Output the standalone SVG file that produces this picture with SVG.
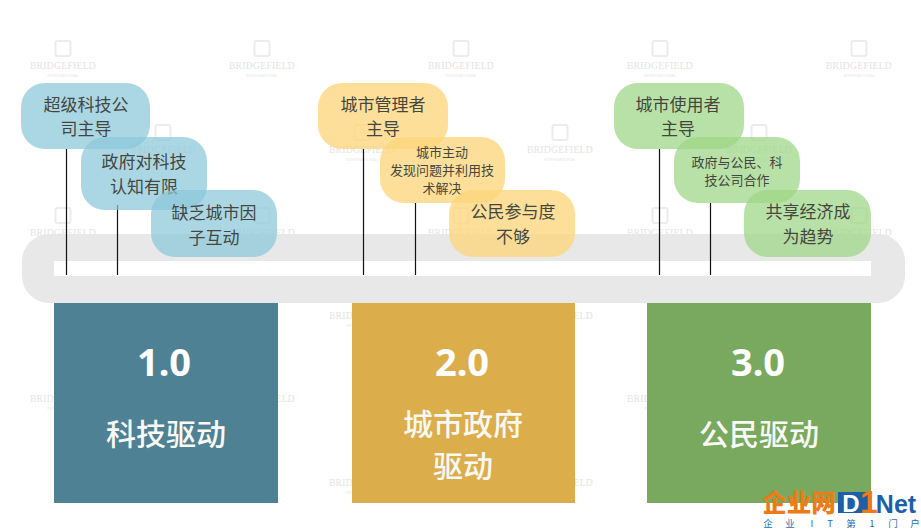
<svg xmlns="http://www.w3.org/2000/svg" width="921" height="531" viewBox="0 0 921 531">
<style>
text{font-family:"Noto Sans CJK SC","Liberation Sans",sans-serif;text-anchor:middle}
.b{fill:#8ac7da;fill-opacity:.72}.y{fill:#fdd67c;fill-opacity:.78}.g{fill:#9cd685;fill-opacity:.72}
.l{font-size:17px;fill:#45473f}
.s{font-size:13px;fill:#45473f}
.t{font-size:38px;font-weight:700;fill:#fff;font-family:"Noto Sans","Liberation Sans",sans-serif}
.c{font-size:30px;font-weight:500;fill:#f8f8f4}
.wm{font-family:"Liberation Serif",serif;font-size:9.600px;fill:#e4e4e4;letter-spacing:.3px}
.ws{font-family:"Liberation Sans",sans-serif;font-size:4px;fill:#e8e8e8}
.f{font-family:"Liberation Sans",sans-serif;font-weight:700}
#connectors line{stroke:#111;stroke-width:1.200}
</style>
<defs>
<g id="w"><rect x="-7.500" y="-28" width="15" height="15" rx="2" fill="none" stroke="#ececec" stroke-width="2"/><text class="wm" y="0">BRIDGEFIELD</text><text class="ws" y="8">INTERNATIONAL</text></g>
</defs>
<rect width="921" height="531" fill="#fff"/>
<g id="watermarks">
<use href="#w" x="63" y="69"/><use href="#w" x="262" y="69"/><use href="#w" x="461" y="69"/><use href="#w" x="660" y="69"/><use href="#w" x="859" y="69"/>
<use href="#w" x="163" y="153"/><use href="#w" x="362" y="153"/><use href="#w" x="560" y="153"/><use href="#w" x="759" y="153"/>
<use href="#w" x="63" y="236"/><use href="#w" x="262" y="236"/><use href="#w" x="461" y="236"/><use href="#w" x="660" y="236"/><use href="#w" x="859" y="236"/>
<use href="#w" x="362" y="319"/><use href="#w" x="560" y="319"/>
<use href="#w" x="63" y="402"/><use href="#w" x="262" y="402"/><use href="#w" x="461" y="402"/><use href="#w" x="660" y="402"/>
<use href="#w" x="362" y="486"/><use href="#w" x="560" y="486"/>
</g>
<g id="band"><rect x="22" y="234" width="883" height="69" rx="27" fill="#e8e8e9"/><rect x="54" y="261" width="817" height="15" fill="#fff"/></g>
<g id="connectors">
<line x1="66.500" y1="149" x2="66.500" y2="275"/><line x1="117.500" y1="205" x2="117.500" y2="275"/>
<line x1="363.500" y1="149" x2="363.500" y2="275"/><line x1="415.500" y1="203" x2="415.500" y2="275"/>
<line x1="659.500" y1="149" x2="659.500" y2="275"/><line x1="710.500" y1="203" x2="710.500" y2="275"/>
</g>
<g id="card-1"><rect x="54" y="303" width="224" height="200" fill="#4f8195"/><text class="t" x="164" y="376">1.0</text><text class="c" x="166" y="445">科技驱动</text></g>
<g id="card-2"><rect x="352" y="303" width="223" height="200" fill="#dbae4b"/><text class="t" x="462" y="376">2.0</text><text class="c" x="463" y="435">城市政府</text><text class="c" x="463" y="477">驱动</text></g>
<g id="card-3"><rect x="647" y="303" width="224" height="200" fill="#79a85f"/><text class="t" x="758" y="376">3.0</text><text class="c" x="759" y="445">公民驱动</text></g>
<g id="b1"><rect class="b" x="21" y="83" width="129" height="66" rx="24"/><text class="l" x="86" y="111">超级科技公</text><text class="l" x="86" y="135">司主导</text></g>
<g id="b2"><rect class="b" x="81" y="137" width="126" height="73" rx="24"/><text class="l" x="144" y="168">政府对科技</text><text class="l" x="144" y="193">认知有限</text></g>
<g id="b3"><rect class="b" x="151" y="190" width="126" height="67" rx="24"/><text class="l" x="214" y="219">缺乏城市因</text><text class="l" x="214" y="244">子互动</text></g>
<g id="y1"><rect class="y" x="318" y="83" width="130" height="66" rx="24"/><text class="l" x="383" y="111">城市管理者</text><text class="l" x="383" y="135">主导</text></g>
<g id="y2"><rect class="y" x="380" y="137" width="125" height="66" rx="24"/><text class="s" x="442" y="157">城市主动</text><text class="s" x="442" y="175">发现问题并利用技</text><text class="s" x="442" y="193">术解决</text></g>
<g id="y3"><rect class="y" x="449" y="190" width="126" height="67" rx="24"/><text class="l" x="513" y="218">公民参与度</text><text class="l" x="513" y="243">不够</text></g>
<g id="g1"><rect class="g" x="614" y="83" width="130" height="66" rx="24"/><text class="l" x="678" y="111">城市使用者</text><text class="l" x="678" y="135">主导</text></g>
<g id="g2"><rect class="g" x="674" y="137" width="126" height="66" rx="24"/><text class="s" x="737" y="167">政府与公民、科</text><text class="s" x="737" y="185">技公司合作</text></g>
<g id="g3"><rect class="g" x="744" y="190" width="127" height="67" rx="24"/><text class="l" x="808" y="218">共享经济成</text><text class="l" x="808" y="243">为趋势</text></g>
<g id="logo">
<text x="799" y="512" style="font-size:24.500px;font-weight:900;fill:#ee7a18">企业网</text>
<rect x="838" y="492" width="34" height="21" fill="#1d5fa8"/>
<text class="f" x="851" y="512" style="font-size:24px;fill:#fff">D</text>
<text class="f" x="869" y="513" style="font-size:32px;fill:#ee7a18">1</text>
<text class="f" x="896" y="513" style="font-size:25px;fill:#1d5fa8">Net</text>
<g style="font-size:9.500px;fill:#1d6fae"><text x="768" y="527">企</text><text x="790" y="527">业</text><text x="812" y="527">I</text><text x="830" y="527">T</text><text x="851" y="527">第</text><text x="872" y="527">1</text><text x="893" y="527">门</text><text x="915" y="527">户</text></g>
</g>
</svg>
